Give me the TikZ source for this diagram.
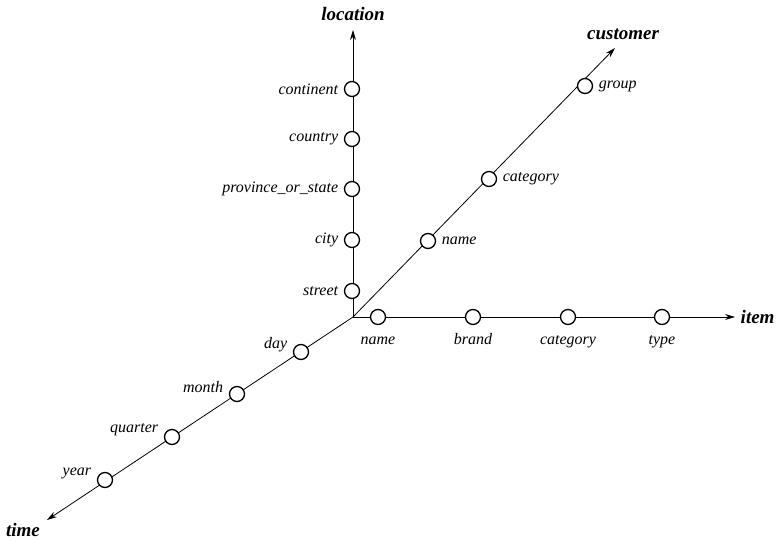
\documentclass[tikz,border=0pt]{standalone}
\usepackage{fontspec}
\setmainfont{Liberation Serif}
\usetikzlibrary{arrows.meta}
\begin{document}
\begin{tikzpicture}[x=1pt, y=-1pt, font=\fontsize{16}{19}\selectfont\itshape, thick]
	\tikzset{lvl/.style={circle, draw, fill=white, minimum size=15pt, inner sep=0pt, line width=1.3pt},
		axname/.style={font=\fontsize{19}{22}\selectfont\bfseries\itshape},
		axis/.style={-{Stealth[length=10pt,width=6pt]}},
		every label/.style={label distance=2pt}}
	\useasboundingbox (0,0) rectangle (777,541);
	\coordinate (O) at (353,317);
	\coordinate (Ltip) at (353,30); \coordinate (Ctip) at (615,48);
	\coordinate (Itip) at (735,317); \coordinate (Ttip) at (47,520);
	\draw[axis] (O) -- (Ltip);
	\draw[axis] (O) -- (Ctip);
	\draw[axis] (O) -- (Itip);
	\draw[axis] (O) -- (Ttip);
	% location
	\foreach \y/\n/\t in {89/cont/continent, 139/ctry/country, 189/prov/province\_or\_state, 240/city/city, 291/str/street}
		\node[lvl, label=left:\t] (\n) at (352,\y) {};
	% customer
	\foreach \x/\y/\n/\t in {428/241/cname/name, 489/179/ccat/category, 585/86/grp/group}
		\node[lvl, label=right:\t] (\n) at (\x,\y) {};
	% item
	\foreach \x/\n/\t in {378/iname/name, 473/brand/brand, 568/icat/category, 662/type/type}
		\node[lvl, label={[text height=1.6ex, text depth=.5ex, label distance=8pt]below:\t}] (\n) at (\x,317) {};
	% time
	\foreach \x/\y/\n/\t in {301/352/day/day, 237/394/month/month, 172/437/qtr/quarter, 105/480/year/year}
		\node[lvl, label={[yshift=7pt]left:\t}] (\n) at (\x,\y) {};
	\node[axname] (loc) at (353,14) {location};
	\node[axname] (cust) at (623,34) {customer};
	\node[axname, anchor=west] (item) at (737,317) {item};
	\node[axname] (time) at (23,530) {time};
\end{tikzpicture}
\end{document}
